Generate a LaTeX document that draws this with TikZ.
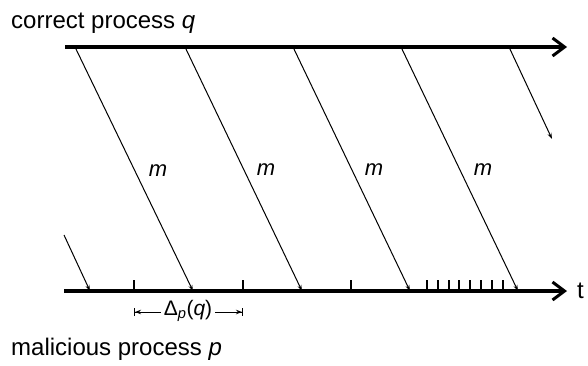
\documentclass[tikz,border=0pt]{standalone}
\usepackage{fontspec}
\setmainfont{Liberation Sans}
\usetikzlibrary{arrows.meta}
\begin{document}
\begin{tikzpicture}[x=1pt,y=-1pt,
  lbl/.style={font=\fontsize{24}{28}\selectfont, inner sep=0pt},
  mlbl/.style={font=\fontsize{22}{26}\selectfont, inner sep=0pt},
  dlbl/.style={font=\fontsize{21}{25}\selectfont, inner sep=0pt},
  axis/.style={line width=3.2pt, -{Straight Barb[length=12pt,width=18pt,line width=3pt]}},
  msg/.style={line width=1pt, -{Stealth[length=6pt,width=4pt]}},
  tick/.style={line width=2.6pt},
  dim/.style={line width=1pt}]
\useasboundingbox (0,0) rectangle (588,365);
% axes
\coordinate (qs) at (65,47);
\coordinate (qe) at (567,47);
\coordinate (ps) at (64,291);
\coordinate (pe) at (567,291);
\draw[axis] (qs) -- (qe);
\draw[axis] (ps) -- (pe);
% labels
\node[lbl, anchor=base west] (ql) at (11,28) {correct process \textit{q}};
\node[lbl, anchor=base west] (pl) at (11,355) {malicious process \textit{p}};
\node[lbl, anchor=base west] (tl) at (577,298) {t};
% message start / end points
\coordinate (s0) at (64,235);  \coordinate (e0) at (90,291);
\coordinate (s1) at (75,47);   \coordinate (e1) at (193,291);
\coordinate (s2) at (185,47);  \coordinate (e2) at (302,291);
\coordinate (s3) at (293,47);  \coordinate (e3) at (410,291);
\coordinate (s4) at (401,47);  \coordinate (e4) at (518,291);
\coordinate (s5) at (509,47);  \coordinate (e5) at (552,139);
\foreach \i in {0,...,5} {\draw[msg] (s\i) -- (e\i);}
% m labels
\node[mlbl] (m1) at (158,171) {\textit{m}};
\node[mlbl] (m2) at (266,170) {\textit{m}};
\node[mlbl] (m3) at (374,170) {\textit{m}};
\node[mlbl] (m4) at (483,170) {\textit{m}};
% ticks
\foreach \x in {134,243,351,427,438,449,459,470,481,492,503} {\draw[tick] (\x,280) -- (\x,291.5);}
% Delta
\node[dlbl] (dl) at (188,311) {Δ\textsubscript{\textit{p}}(\textit{q})};
\coordinate (dL) at (134,312);
\coordinate (dR) at (243,312);
\draw[dim, {Bar[width=8pt]Stealth[length=6pt,width=4.5pt]}-] (dL) -- ([xshift=-3pt]dl.west |- dL);
\draw[dim, -{Stealth[length=6pt,width=4.5pt]Bar[width=8pt]}] ([xshift=3pt]dl.east |- dR) -- (dR);
\end{tikzpicture}
\end{document}
